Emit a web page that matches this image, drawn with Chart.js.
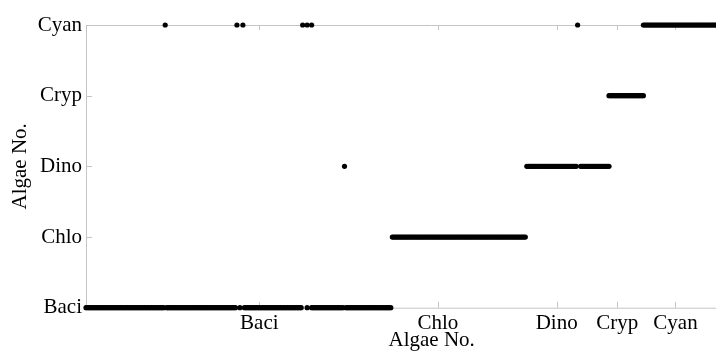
<!DOCTYPE html>
<html>
<head>
<meta charset="utf-8">
<script src="https://cdn.jsdelivr.net/npm/chart.js@4/dist/chart.umd.min.js"></script>
<style>
html,body{margin:0;padding:0;background:#fff;overflow:hidden;width:716px;height:351px;}
canvas{display:block;}
</style>
</head>
<body>
<canvas id="c" width="780" height="351"></canvas>
<script>
// Class names (y categories and x tick labels)
const classNames = ['Baci', 'Chlo', 'Dino', 'Cryp', 'Cyan'];
// x tick positions (sample number) for the x-axis class labels
const xTickSamples = [116, 235.5, 315, 355.5, 394.5];
// Predicted-class runs of sample numbers [first, last]
const baciRuns = [[0, 52], [54, 100], [103, 103], [106, 144], [148, 148], [151, 172], [174, 204]];
const chloRuns = [[205, 294]];
const dinoRuns = [[173, 173], [295, 328], [331, 350]];
const crypRuns = [[350, 373]];
const cyanRuns = [[53, 53], [101, 101], [105, 105], [145, 145], [148, 148], [151, 151], [329, 329], [373, 424]];

const sampleMin = 0, sampleMax = 462.7;

function runsToPoints(runs, cls) {
  const pts = [];
  runs.forEach(([a, b]) => { for (let s = a; s <= b; s++) pts.push({x: s, y: cls}); });
  return pts;
}

const allRuns = [baciRuns, chloRuns, dinoRuns, crypRuns, cyanRuns];
const datasets = allRuns.map((runs, i) => ({
  label: classNames[i],
  data: runsToPoints(runs, i + 1),
  pointRadius: 2.6,
  pointHoverRadius: 2.6,
  pointBackgroundColor: '#000',
  pointBorderWidth: 0,
  showLine: false,
  clip: false
}));

const FONT = "'Liberation Serif', 'Times New Roman', serif";
const AXIS_COLOR = '#c4c4c4';

const axisPlugin = {
  id: 'axisBox',
  beforeDatasetsDraw(chart) {
    const {ctx, chartArea: a, scales: {x, y}} = chart;
    ctx.save();
    ctx.strokeStyle = AXIS_COLOR;
    ctx.lineWidth = 1;
    ctx.beginPath();
    ctx.moveTo(a.left + 0.5, a.top); ctx.lineTo(a.left + 0.5, a.bottom);
    ctx.moveTo(a.left, a.top + 0.5); ctx.lineTo(a.right, a.top + 0.5);
    ctx.moveTo(a.left, a.bottom + 0.5); ctx.lineTo(a.right, a.bottom + 0.5);
    xTickSamples.forEach(v => {
      const px = Math.round(x.getPixelForValue(v)) + 0.5;
      ctx.moveTo(px, a.bottom); ctx.lineTo(px, a.bottom - 6);
      ctx.moveTo(px, a.top); ctx.lineTo(px, a.top + 5);
    });
    classNames.forEach((n, i) => {
      const py = Math.round(y.getPixelForValue(i + 1)) + 0.5;
      ctx.moveTo(a.left, py); ctx.lineTo(a.left + 6, py);
    });
    ctx.stroke();
    ctx.restore();
  }
};

new Chart(document.getElementById('c'), {
  type: 'scatter',
  data: {datasets},
  plugins: [axisPlugin],
  options: {
    responsive: false,
    animation: false,
    events: [],
    layout: {padding: {top: 25, right: 0, left: 0, bottom: 0}},
    plugins: {legend: {display: false}, tooltip: {enabled: false}, title: {display: false}},
    scales: {
      x: {
        type: 'linear',
        min: sampleMin,
        max: sampleMax,
        afterBuildTicks: s => { s.ticks = xTickSamples.map(v => ({value: v})); },
        afterFit: s => { s.height = 43.3; },
        ticks: {
          autoSkip: false,
          maxRotation: 0,
          padding: 3,
          color: '#000',
          font: {family: FONT, size: 21},
          callback: (v, i) => classNames[i]
        },
        grid: {display: false, drawTicks: false},
        border: {display: false},
        title: {
          display: true,
          text: 'Algae No.',
          color: '#000',
          font: {family: FONT, size: 21, lineHeight: 1},
          padding: {top: 0, bottom: 0}
        }
      },
      y: {
        type: 'linear',
        min: 1,
        max: 5,
        afterBuildTicks: s => { s.ticks = classNames.map((n, i) => ({value: i + 1})); },
        afterFit: s => { s.width = 86; },
        ticks: {
          autoSkip: false,
          padding: 4,
          color: '#000',
          font: {family: FONT, size: 21},
          callback: v => classNames[v - 1]
        },
        grid: {display: false, drawTicks: false},
        border: {display: false},
        title: {
          display: true,
          text: 'Algae No.',
          color: '#000',
          font: {family: FONT, size: 21, lineHeight: 1},
          padding: {top: 10, bottom: 0}
        }
      }
    }
  }
});
</script>
</body>
</html>
